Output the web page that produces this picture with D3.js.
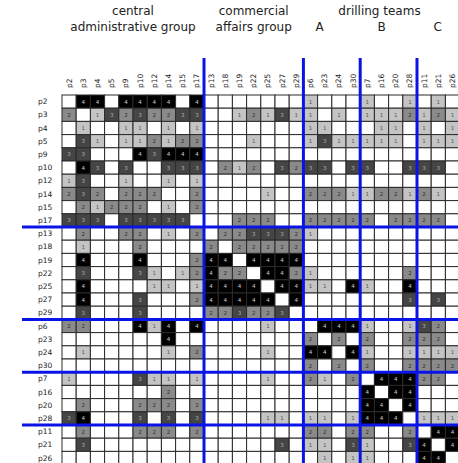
<!DOCTYPE html>
<html><head><meta charset="utf-8">
<script src="https://cdn.jsdelivr.net/npm/d3@7"></script>
<style>body{margin:0;background:#fff;overflow:hidden}</style>
</head><body><svg id="c" width="458" height="463"></svg>
<script>
const nodes = ["p2","p3","p4","p5","p9","p10","p12","p14","p15","p17",
  "p13","p18","p19","p22","p25","p27","p29",
  "p6","p23","p24","p30",
  "p7","p16","p20","p28",
  "p11","p21","p26"];
// last member of each block (blue separators after these)
const blockEnds = ["p17","p29","p30","p28"];
const groupTitles = [
  {lines:["central","administrative group"], from:"p2", to:"p17"},
  {lines:["commercial","affairs group"], from:"p13", to:"p29"}
];
const drillTitle = "drilling teams";
const teamLabels = [{t:"A",at:"p23",off:0.15},{t:"B",at:"p16",off:0.5},{t:"C",at:"p21",off:0.45}];

const r_p2  = [0,4,4,0,4,4,4,4,0,4, 0,0,0,0,0,0,0, 1,0,0,0, 1,0,0,1, 0,1,0];
const r_p3  = [2,0,1,3,2,3,2,2,3,3, 0,0,1,2,1,3,1, 1,0,1,0, 1,1,1,2, 1,2,1];
const r_p4  = [0,1,0,0,1,1,0,1,0,1, 0,0,0,0,0,0,0, 1,1,0,0, 0,1,1,0, 1,0,1];
const r_p5  = [0,3,1,0,1,1,2,1,2,2, 0,0,0,1,0,0,0, 1,3,1,1, 1,1,1,0, 1,1,1];
const r_p9  = [3,3,0,0,0,4,3,4,4,4, 0,0,0,0,0,0,0, 0,0,0,0, 0,0,0,0, 0,0,0];
const r_p10 = [0,4,3,0,3,0,0,3,3,3, 0,2,1,2,0,3,2, 3,3,0,3, 3,0,0,3, 3,3,0];
const r_p12 = [1,3,0,0,1,0,0,1,0,1, 0,0,0,0,0,0,0, 0,0,0,0, 0,0,0,0, 0,0,0];
const r_p14 = [2,3,2,0,2,2,2,0,0,2, 0,0,0,0,1,0,0, 2,2,2,1, 1,2,2,1, 2,1,0];
const r_p15 = [0,2,1,2,2,2,0,1,0,2, 0,0,0,0,0,0,0, 0,0,0,0, 0,0,0,0, 0,0,0];
const r_p17 = [3,3,3,0,3,3,3,3,3,0, 0,0,2,2,2,0,0, 2,2,2,2, 2,0,2,2, 2,2,0];
const r_p13 = [0,2,0,0,2,2,0,1,0,2, 0,2,2,3,3,3,2, 1,0,0,0, 0,0,0,0, 0,0,0];
const r_p18 = [0,1,0,0,0,2,0,0,0,0, 2,0,2,2,2,2,2, 0,0,0,0, 0,0,0,0, 0,0,0];
const r_p19 = [0,4,0,0,0,4,0,0,0,2, 4,4,0,4,4,4,4, 0,0,0,0, 0,0,0,0, 0,0,0];
const r_p22 = [0,3,0,0,0,3,1,0,1,2, 4,2,2,0,4,4,2, 1,0,0,0, 0,0,0,2, 0,0,0];
const r_p25 = [0,4,0,0,0,0,1,1,0,1, 4,4,4,4,0,4,4, 1,1,0,4, 1,0,0,4, 0,0,0];
const r_p27 = [0,4,0,0,0,3,0,0,0,2, 4,4,4,4,4,0,4, 0,0,0,0, 0,0,0,3, 0,3,0];
const r_p29 = [0,3,0,0,0,3,0,0,0,0, 2,2,3,2,2,3,0, 0,0,0,0, 0,0,0,0, 0,0,0];
const r_p6  = [2,2,0,0,0,4,1,4,0,4, 0,0,0,0,1,0,0, 0,4,4,4, 1,0,0,1, 3,2,0];
const r_p23 = [0,0,0,0,0,0,0,4,0,0, 0,0,0,0,0,0,0, 2,0,2,0, 2,0,0,2, 2,2,0];
const r_p24 = [0,1,0,0,0,0,0,1,0,2, 0,0,0,0,1,0,0, 4,4,0,4, 1,0,0,1, 1,1,1];
const r_p30 = [0,0,0,0,0,0,0,0,0,0, 0,0,0,0,0,0,0, 2,0,2,0, 2,0,0,2, 2,2,2];
const r_p7  = [1,0,0,0,0,3,1,1,0,1, 0,0,0,0,1,0,0, 2,1,0,2, 0,4,4,4, 2,2,0];
const r_p16 = [0,0,0,0,0,0,0,2,0,0, 0,0,0,0,0,0,0, 0,0,0,0, 4,0,4,4, 0,0,0];
const r_p20 = [0,2,0,0,0,2,2,2,0,2, 0,0,0,0,0,0,0, 0,0,0,0, 4,4,0,4, 0,0,0];
const r_p28 = [3,4,0,0,0,3,0,3,0,3, 0,0,0,0,1,1,0, 1,1,0,1, 4,4,4,0, 1,1,1];
const r_p11 = [0,2,0,0,0,2,2,2,0,2, 0,0,0,0,0,0,0, 2,2,0,2, 2,0,0,2, 0,4,4];
const r_p21 = [0,3,0,0,0,0,0,0,0,0, 0,0,0,0,0,3,0, 1,1,0,3, 1,0,0,3, 4,0,4];
const r_p26 = [0,0,0,0,0,0,0,0,0,0, 0,0,0,0,0,0,0, 0,1,0,1, 1,0,0,0, 4,4,0];

const rows = [r_p2,r_p3,r_p4,r_p5,r_p9,r_p10,r_p12,r_p14,r_p15,r_p17,
  r_p13,r_p18,r_p19,r_p22,r_p25,r_p27,r_p29,
  r_p6,r_p23,r_p24,r_p30,
  r_p7,r_p16,r_p20,r_p28,
  r_p11,r_p21,r_p26];

const cells = [];
rows.forEach((r,i)=>r.forEach((v,j)=>cells.push({row:nodes[i],col:nodes[j],v})));

const svg = d3.select("#c");
const cw = 14.2, ch = 13.2, X0 = 62, Y0 = 95;
const x = d3.scaleBand().domain(nodes).range([X0, X0 + cw*nodes.length]).padding(0);
const y = d3.scaleBand().domain(nodes).range([Y0, Y0 + ch*nodes.length]).padding(0);
const fill = d3.scaleOrdinal().domain([0,1,2,3,4]).range(["#ffffff","#c4c4c4","#8a8a8a","#454545","#000000"]);
const tcol = d3.scaleOrdinal().domain([0,1,2,3,4]).range(["#fff","#5a5a5a","#2e2e2e","#b4b4b4","#c8c8c8"]);

const g = svg.append("g");
g.selectAll("rect.cell").data(cells).join("rect").attr("class","cell")
  .attr("x",d=>x(d.col)).attr("y",d=>y(d.row))
  .attr("width",x.bandwidth()).attr("height",y.bandwidth())
  .attr("fill",d=>fill(d.v)).attr("stroke","#2a2a2a").attr("stroke-width",1);
g.selectAll("text.val").data(cells.filter(d=>d.v>0)).join("text").attr("class","val")
  .attr("x",d=>x(d.col)+x.bandwidth()/2).attr("y",d=>y(d.row)+y.bandwidth()/2)
  .attr("text-anchor","middle").attr("dominant-baseline","central")
  .attr("font-family","DejaVu Sans, sans-serif").attr("font-size",5.5)
  .attr("fill",d=>tcol(d.v)).text(d=>d.v);

// row labels
svg.selectAll("text.rl").data(nodes).join("text").attr("class","rl")
  .attr("x",38).attr("y",d=>y(d)+y.bandwidth()/2)
  .attr("dominant-baseline","central")
  .attr("font-family","DejaVu Sans, sans-serif").attr("font-size",7.5).attr("fill","#222").text(d=>d);
// column labels
svg.selectAll("text.cl").data(nodes).join("text").attr("class","cl")
  .attr("transform",d=>`translate(${x(d)+x.bandwidth()/2},88) rotate(-90)`)
  .attr("dominant-baseline","central")
  .attr("font-family","DejaVu Sans, sans-serif").attr("font-size",7.5).attr("fill","#222").text(d=>d);

// blue separators
const right = X0 + cw*nodes.length, bottom = Y0 + ch*nodes.length;
blockEnds.forEach(n=>{
  const vx = x(n)+x.bandwidth();
  svg.append("line").attr("x1",vx).attr("x2",vx).attr("y1",58).attr("y2",bottom).attr("stroke","#0a14e6").attr("stroke-width",3);
  const hy = y(n)+y.bandwidth();
  svg.append("line").attr("x1",22).attr("x2",right).attr("y1",hy).attr("y2",hy).attr("stroke","#0a14e6").attr("stroke-width",3);
});

// titles
const tf = "DejaVu Sans, Verdana, sans-serif";
groupTitles.forEach(gt=>{
  const cx = (x(gt.from) + x(gt.to)+x.bandwidth())/2;
  gt.lines.forEach((l,k)=>{
    svg.append("text").attr("x",cx).attr("y",15+k*16).attr("text-anchor","middle")
      .attr("font-family",tf).attr("font-size",12).attr("fill","#222").text(l);
  });
});
svg.append("text").attr("x",(x("p6")+right)/2 - 2).attr("y",15).attr("text-anchor","middle")
  .attr("font-family",tf).attr("font-size",12).attr("fill","#222").text(drillTitle);
teamLabels.forEach(t=>{
  svg.append("text").attr("x",x(t.at)+x.bandwidth()*t.off).attr("y",31).attr("text-anchor","middle")
    .attr("font-family",tf).attr("font-size",12).attr("fill","#222").text(t.t);
});
</script></body></html>
